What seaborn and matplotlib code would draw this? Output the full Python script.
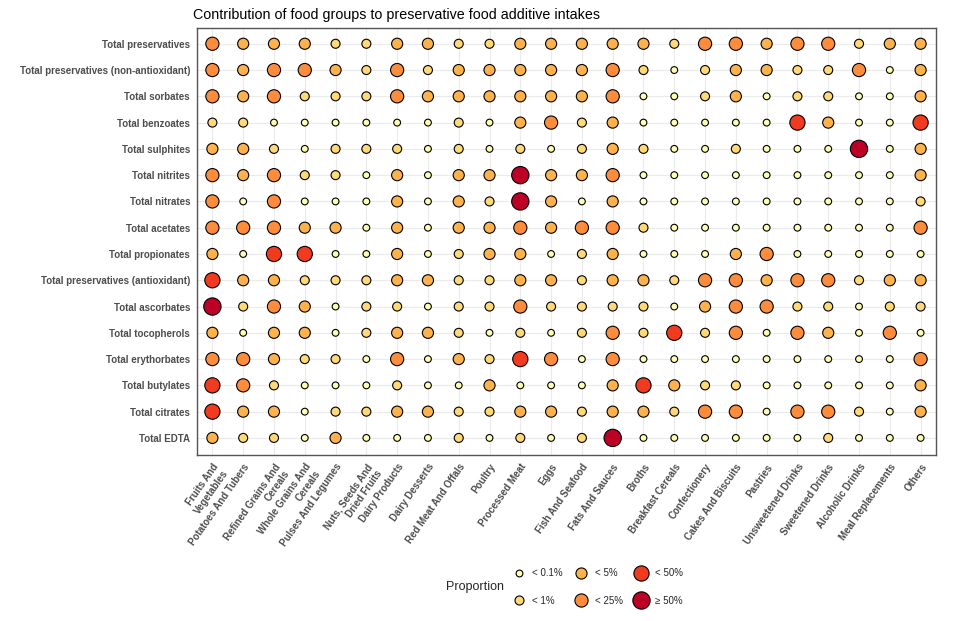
import matplotlib
matplotlib.use("Agg")
import matplotlib.pyplot as plt
from matplotlib.lines import Line2D
import seaborn as sns
import pandas as pd

food_groups = [
    "Fruits And\nVegetables", "Potatoes And Tubers", "Refined Grains And\nCereals",
    "Whole Grains And\nCereals", "Pulses And Legumes", "Nuts, Seeds And\nDried Fruits",
    "Dairy Products", "Dairy Desserts", "Red Meat And Offals", "Poultry",
    "Processed Meat", "Eggs", "Fish And Seafood", "Fats And Sauces", "Broths",
    "Breakfast Cereals", "Confectionery", "Cakes And Biscuits", "Pastries",
    "Unsweetened Drinks", "Sweetened Drinks", "Alcoholic Drinks",
    "Meal Replacements", "Others",
]

additives = [
    "Total preservatives", "Total preservatives (non-antioxidant)", "Total sorbates",
    "Total benzoates", "Total sulphites", "Total nitrites", "Total nitrates",
    "Total acetates", "Total propionates", "Total preservatives (antioxidant)",
    "Total ascorbates", "Total tocopherols", "Total erythorbates",
    "Total butylates", "Total citrates", "Total EDTA",
]

proportion_levels = ["< 0.1%", "< 1%", "< 5%", "< 25%", "< 50%", "\u2265 50%"]

# category index (0..5) into proportion_levels, one list per additive row
total_preservatives = [3, 2, 2, 2, 1, 1, 2, 2, 1, 1, 2, 2, 2, 2, 2, 1, 3, 3, 2, 3, 3, 1, 2, 2]
total_non_antioxidant = [3, 2, 3, 3, 2, 1, 3, 1, 2, 2, 2, 2, 2, 3, 1, 0, 1, 2, 2, 1, 1, 3, 0, 2]
total_sorbates = [3, 2, 3, 1, 1, 1, 3, 2, 2, 2, 2, 2, 2, 3, 0, 0, 1, 2, 0, 1, 1, 0, 0, 2]
total_benzoates = [1, 1, 0, 0, 0, 0, 0, 0, 1, 0, 2, 3, 1, 2, 0, 0, 0, 0, 0, 4, 2, 0, 0, 4]
total_sulphites = [2, 2, 1, 0, 1, 1, 1, 0, 1, 0, 1, 0, 1, 2, 1, 0, 0, 1, 0, 0, 0, 5, 0, 2]
total_nitrites = [3, 2, 3, 1, 1, 0, 2, 0, 2, 2, 5, 2, 2, 3, 0, 0, 0, 0, 0, 0, 0, 0, 0, 2]
total_nitrates = [3, 0, 3, 0, 0, 0, 2, 0, 2, 1, 5, 2, 0, 2, 0, 0, 0, 0, 0, 0, 0, 0, 0, 1]
total_acetates = [3, 3, 3, 2, 2, 0, 2, 0, 2, 2, 3, 2, 3, 3, 1, 0, 0, 0, 0, 0, 0, 0, 0, 3]
total_propionates = [2, 0, 4, 4, 0, 0, 2, 0, 1, 2, 2, 0, 1, 2, 0, 0, 0, 2, 3, 0, 0, 0, 0, 0]
total_antioxidant = [4, 2, 2, 1, 1, 1, 2, 2, 1, 1, 2, 2, 1, 2, 2, 1, 3, 3, 2, 3, 3, 1, 2, 2]
total_ascorbates = [5, 1, 3, 2, 0, 1, 1, 0, 1, 1, 3, 1, 1, 1, 1, 0, 2, 3, 3, 1, 1, 0, 1, 1]
total_tocopherols = [2, 0, 2, 2, 0, 1, 2, 2, 1, 0, 1, 0, 1, 3, 1, 4, 1, 3, 0, 3, 2, 0, 3, 0]
total_erythorbates = [3, 3, 2, 1, 1, 0, 3, 0, 2, 1, 4, 3, 0, 3, 0, 0, 0, 0, 0, 0, 0, 0, 0, 3]
total_butylates = [4, 3, 1, 0, 0, 0, 1, 0, 0, 2, 0, 0, 0, 2, 4, 2, 1, 1, 0, 0, 0, 0, 0, 2]
total_citrates = [4, 2, 2, 0, 1, 1, 2, 2, 1, 1, 2, 2, 1, 2, 2, 1, 3, 3, 0, 3, 3, 1, 0, 2]
total_edta = [2, 1, 1, 0, 2, 0, 0, 0, 1, 0, 1, 0, 1, 5, 0, 0, 0, 0, 0, 0, 1, 0, 0, 0]

rows = [
    total_preservatives, total_non_antioxidant, total_sorbates, total_benzoates,
    total_sulphites, total_nitrites, total_nitrates, total_acetates,
    total_propionates, total_antioxidant, total_ascorbates, total_tocopherols,
    total_erythorbates, total_butylates, total_citrates, total_edta,
]

records = []
for add, vals in zip(additives, rows):
    for fg, v in zip(food_groups, vals):
        records.append({"food": fg, "additive": add, "prop": proportion_levels[v]})
df = pd.DataFrame(records)
df["food"] = pd.Categorical(df["food"], categories=food_groups, ordered=True)
df["additive"] = pd.Categorical(df["additive"], categories=additives, ordered=True)

colors = ["#FFFFB2", "#FED976", "#FEB24C", "#FD8D3C", "#F03B20", "#BD0026"]
palette = dict(zip(proportion_levels, colors))
size_vals = [24, 42, 64, 90, 120, 155]
sizes = dict(zip(proportion_levels, size_vals))

sns.set_theme(style="white")
plt.rcParams["font.family"] = ["Liberation Sans", "DejaVu Sans"]

fig = plt.figure(figsize=(9.6, 6.21), dpi=100)
ax = fig.add_axes([197 / 960, 1 - 455 / 621, (936 - 197) / 960, (455 - 28) / 621])

sns.scatterplot(
    data=df, x="food", y="additive", hue="prop", size="prop",
    hue_order=proportion_levels, size_order=proportion_levels,
    palette=palette, sizes=sizes, edgecolor="black", linewidth=0.8,
    legend=False, ax=ax, zorder=3,
)

ax.set_xlim(-0.5, len(food_groups) - 0.5)
ax.set_ylim(len(additives) - 0.35, -0.6)
ax.set_xticks(range(len(food_groups)))
ax.set_xticklabels(food_groups, rotation=55, ha="right", rotation_mode="anchor",
                   fontsize=7, fontweight="bold", color="#4D4D4D")
ax.set_yticks(range(len(additives)))
ax.set_yticklabels(additives, fontsize=7, fontweight="bold", color="#4D4D4D")
ax.set_xlabel("")
ax.set_ylabel("")
ax.grid(True, color="#EBEBEB", linewidth=0.8, zorder=0)
ax.set_axisbelow(True)
for s in ax.spines.values():
    s.set_color("#555555")
    s.set_linewidth(1.0)
ax.tick_params(axis="both", length=3, width=0.8, color="#555555", pad=2)

fig.text(193 / 960, 1 - 15 / 621, "Contribution of food groups to preservative food additive intakes",
         fontsize=10.3, ha="left", va="center", color="black")

handles = [
    Line2D([], [], marker="o", linestyle="", markerfacecolor=palette[l],
           markeredgecolor="black", markeredgewidth=0.8, markersize=sizes[l] ** 0.5, label=l)
    for l in proportion_levels
]
fig.legend(handles=handles, ncol=3, frameon=False, loc="center",
           bbox_to_anchor=(597 / 960, 1 - 587 / 621), fontsize=7,
           columnspacing=1.2, handletextpad=0.6, labelspacing=1.8, handlelength=1.5)
fig.text(475 / 960, 1 - 587 / 621, "Proportion", fontsize=9, ha="center", va="center")

fig.savefig("out.png", dpi=100, facecolor="white")
